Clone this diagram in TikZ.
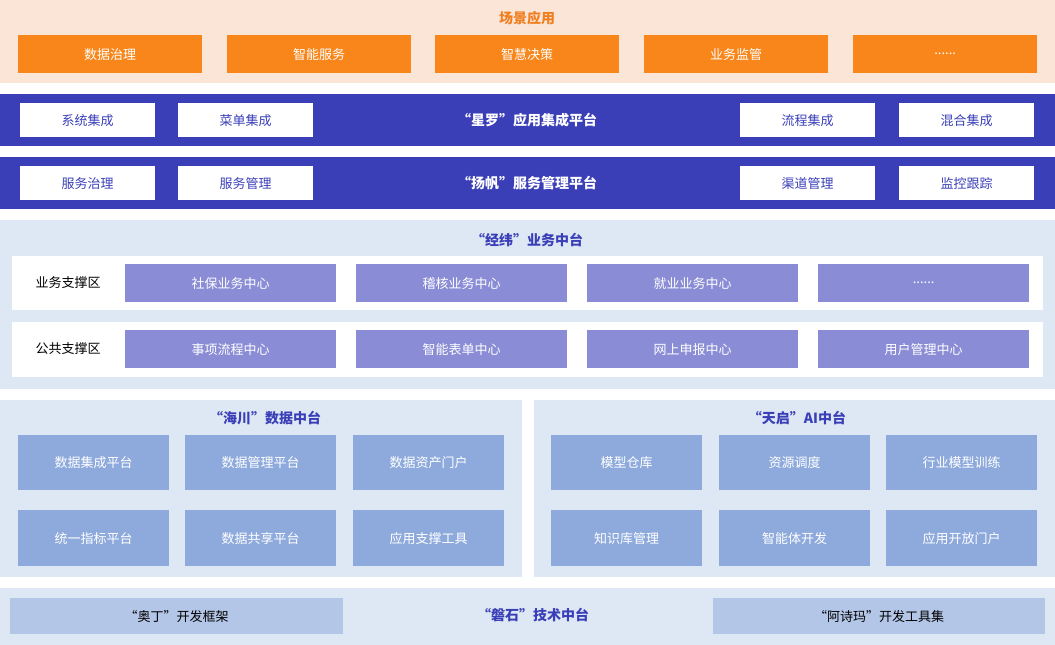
\documentclass[tikz,border=0pt]{standalone}
\usepackage{fontspec}
\setmainfont{Noto Sans CJK SC}
\usetikzlibrary{positioning}
\definecolor{peach}{HTML}{FBE5D6}
\definecolor{orangebox}{HTML}{F8861A}
\definecolor{orangetxt}{HTML}{F07F22}
\definecolor{navy}{HTML}{3A3FB7}
\definecolor{paleblue}{HTML}{DEE8F4}
\definecolor{lilac}{HTML}{8A8DD6}
\definecolor{steel}{HTML}{8EAADC}
\definecolor{mist}{HTML}{B4C6E7}
\definecolor{titleblue}{HTML}{3A3FB7}
\newcommand{\sixdots}{......}
\tikzset{
  box/.style={draw=none,anchor=north west,inner sep=0pt,font=\fontsize{13}{13}\selectfont},
  title/.style={font=\fontsize{14}{14}\selectfont\bfseries}
}
\begin{document}
\begin{tikzpicture}[x=1pt,y=-1pt]
\useasboundingbox (0,0) rectangle (1055,645);
% bands
\fill[peach] (0,0) rectangle (1055,83);
\fill[navy] (0,94) rectangle (1055,146);
\fill[navy] (0,157) rectangle (1055,209);
\fill[paleblue] (0,220) rectangle (1055,389);
\fill[paleblue] (0,400) rectangle (522,577);
\fill[paleblue] (534,400) rectangle (1055,577);
\fill[paleblue] (0,588) rectangle (1055,645);
% scene
\node[title,text=orangetxt] (scene) at (527,18) {场景应用};
\foreach \x/\t [count=\i] in {18/数据治理,227/智能服务,435/智慧决策,644/业务监管,853/\sixdots}
  \node[box,fill=orangebox,text=white,minimum width=184pt,minimum height=38pt] (s\i) at (\x,35) {\t};
% platforms
\node[title,text=white] (xl) at (527,120) {“星罗”应用集成平台};
\foreach \x/\t [count=\i] in {20/系统集成,178/菜单集成,740/流程集成,899/混合集成}
  \node[box,fill=white,text=navy,minimum width=135pt,minimum height=34pt] (a\i) at (\x,103) {\t};
\node[title,text=white] (yf) at (527,183) {“扬帆”服务管理平台};
\foreach \x/\t [count=\i] in {20/服务治理,178/服务管理,740/渠道管理,899/监控跟踪}
  \node[box,fill=white,text=navy,minimum width=135pt,minimum height=34pt] (b\i) at (\x,166) {\t};
% jingwei
\node[title,text=titleblue] (jw) at (527,240) {“经纬”业务中台};
\fill[white] (12,256) rectangle (1043,310);
\fill[white] (12,322) rectangle (1043,377);
\node[font=\fontsize{13}{13}\selectfont] (r1) at (68,283) {业务支撑区};
\node[font=\fontsize{13}{13}\selectfont] (r2) at (68,349) {公共支撑区};
\foreach \x/\t [count=\i] in {125/社保业务中心,356/稽核业务中心,587/就业业务中心,818/\sixdots}
  \node[box,fill=lilac,text=white,minimum width=211pt,minimum height=38pt] (c\i) at (\x,264) {\t};
\foreach \x/\t [count=\i] in {125/事项流程中心,356/智能表单中心,587/网上申报中心,818/用户管理中心}
  \node[box,fill=lilac,text=white,minimum width=211pt,minimum height=38pt] (d\i) at (\x,330) {\t};
% data and AI
\node[title,text=titleblue] (hc) at (265,418) {“海川”数据中台};
\node[title,text=titleblue] (tq) at (797,418) {“天启”AI中台};
\foreach \x/\t [count=\i] in {18/数据集成平台,185/数据管理平台,353/数据资产门户,551/模型仓库,719/资源调度,886/行业模型训练}
  \node[box,fill=steel,text=white,minimum width=151pt,minimum height=55pt] (e\i) at (\x,435) {\t};
\foreach \x/\t [count=\i] in {18/统一指标平台,185/数据共享平台,353/应用支撑工具,551/知识库管理,719/智能体开发,886/应用开放门户}
  \node[box,fill=steel,text=white,minimum width=151pt,minimum height=56pt] (f\i) at (\x,510) {\t};
% base
\node[title,text=titleblue] (ps) at (533,615) {“磐石”技术中台};
\node[box,fill=mist,minimum width=333pt,minimum height=36pt] (g1) at (10,598) {“奥丁”开发框架};
\node[box,fill=mist,minimum width=332pt,minimum height=36pt] (g2) at (713,598) {“阿诗玛”开发工具集};
\end{tikzpicture}
\end{document}
